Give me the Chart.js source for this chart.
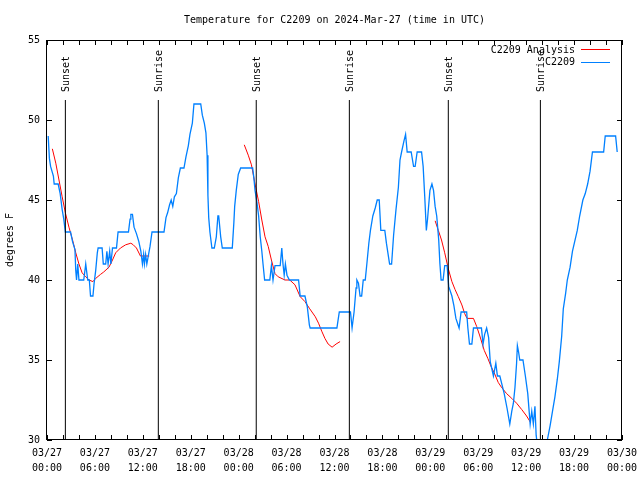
<!DOCTYPE html>
<html lang="en">
<head>
<meta charset="UTF-8" />
<title>C2209 Temperature</title>
<script src="https://cdn.jsdelivr.net/npm/chart.js"></script>
<style>
  body { margin: 0; background: #fff; }
  #tempChart { display: block; }
</style>
</head>
<body>
<canvas id="tempChart" width="640" height="480"></canvas>
<script>
// x values are hours since 03/27 00:00 UTC
const obsHours = [0.15,0.3,0.45,0.8,0.9,1.4,1.65,1.9,2.1,2.3,2.95,3.2,3.5,3.6,3.7,3.85,4.0,4.6,4.85,5.1,5.3,5.45,5.75,5.9,6.1,6.3,6.4,6.9,7.05,7.35,7.5,7.65,7.85,8.0,8.2,8.7,8.9,10.2,10.4,10.5,10.7,10.9,11.2,11.5,11.75,11.95,12.1,12.2,12.35,12.5,12.9,13.15,14.65,14.9,15.1,15.35,15.55,15.75,15.95,16.2,16.45,16.7,17.15,17.4,17.7,17.9,18.2,18.4,19.25,19.45,19.7,19.9,20.05,20.15,20.25,20.4,20.65,20.95,21.2,21.4,21.5,21.75,21.95,23.2,23.4,23.5,23.7,23.95,24.25,25.75,25.9,26.05,26.3,26.5,26.7,26.9,27.05,27.25,27.9,28.1,28.3,28.55,29.2,29.4,29.55,29.7,29.85,30.05,30.35,31.5,31.7,32.3,32.6,32.85,32.95,36.3,36.6,38.0,38.2,38.45,38.7,38.8,39.0,39.2,39.4,39.6,39.85,40.05,40.3,40.5,40.8,41.1,41.35,41.6,41.8,42.3,42.5,42.9,43.15,43.4,43.7,44.0,44.2,44.4,44.7,44.9,45.1,45.6,45.9,46.1,46.35,46.9,47.1,47.3,47.5,47.65,47.95,48.2,48.4,48.6,48.8,49.05,49.2,49.35,49.6,49.8,50.1,50.3,50.7,50.95,51.2,51.6,51.85,52.55,52.7,52.9,53.2,53.4,54.4,54.6,54.8,55.05,55.3,55.5,55.9,56.2,56.4,56.7,57.05,57.25,57.6,57.95,58.2,58.4,58.6,58.8,58.9,59.05,59.2,59.6,59.9,60.2,60.5,60.7,60.9,61.1,61.25,61.5,62.1,62.65,63.0,63.3,63.6,63.9,64.15,64.45,64.65,64.95,65.15,65.5,65.8,66.4,66.7,67.1,67.4,67.7,68.0,68.3,69.7,69.9,71.2,71.4];
const obsTemps = [49.0,47.6,47.1,46.5,46.0,46.0,45.4,44.4,43.8,43.0,43.0,42.4,41.9,40.6,40.0,41.0,40.0,40.0,41.0,40.0,40.0,39.0,39.0,39.8,40.6,41.7,42.0,42.0,41.0,41.0,41.8,41.0,41.8,41.0,42.0,42.0,43.0,43.0,43.8,44.1,44.1,43.3,42.9,42.4,41.8,41.0,41.6,41.0,41.6,41.0,42.1,43.0,43.0,43.9,44.2,44.7,45.0,44.6,45.2,45.4,46.4,47.0,47.0,47.7,48.4,49.1,49.8,51.0,51.0,50.3,49.8,49.2,47.8,45.3,43.9,43.0,42.0,42.0,42.7,44.0,44.0,42.7,42.0,42.0,43.6,44.6,45.6,46.6,47.0,47.0,46.4,45.6,44.8,44.0,42.7,41.8,41.0,40.0,40.0,40.9,40.0,40.9,40.9,42.0,41.0,40.3,41.0,40.3,40.0,40.0,39.0,39.0,38.3,37.2,37.0,37.0,38.0,38.0,37.0,38.0,39.5,40.0,39.8,39.0,39.0,40.0,40.0,41.0,42.3,43.1,44.0,44.5,45.0,45.0,43.1,43.1,42.3,41.0,41.0,42.8,44.4,45.8,47.5,48.0,48.7,49.1,48.0,48.0,47.1,47.1,48.0,48.0,47.1,45.2,43.1,43.8,45.6,46.0,45.6,44.6,44.0,42.5,41.0,40.0,40.0,40.9,40.9,39.6,39.0,38.4,37.6,37.0,38.0,38.0,37.0,36.0,36.0,37.0,37.0,36.0,36.6,37.0,36.4,34.9,34.0,34.8,34.0,34.0,33.3,32.9,32.0,31.0,31.8,32.3,33.3,34.8,35.9,35.5,35.0,35.0,34.0,32.9,31.0,31.8,31.0,32.1,30.3,29.3,29.3,30.0,30.9,31.8,32.7,33.8,34.9,36.5,38.2,39.2,40.0,40.8,41.8,43.1,44.0,45.0,45.4,46.0,46.8,48.0,48.0,49.0,49.0,48.0];

// analysis runs, a null temperature breaks the line between runs
const anaHours = [0.67,1.1,1.5,1.9,2.3,2.75,3.2,3.6,4.0,4.4,4.85,5.26,5.75,6.1,6.7,7.1,7.76,8.2,8.6,9.2,9.85,10.5,10.8,11.2,11.7,12.8,
  18,
  24.7,25.2,25.6,26.05,26.5,26.9,27.3,27.7,28.1,28.55,28.95,29.8,30.4,31.05,31.7,32.3,32.9,33.6,34.0,34.4,34.8,35.2,35.7,36.2,36.7,
  42,
  48.6,49.0,49.4,49.8,50.25,50.7,51.1,51.5,51.95,52.3,52.6,53.4,53.8,54.2,54.75,55.2,55.6,56.0,56.5,56.9,57.55,58.2,58.8,59.45,60.05,60.55];
const anaTemps = [48.2,47.3,46.25,45.2,44.2,43.3,42.5,41.7,41.0,40.45,40.2,40.0,39.9,40.1,40.35,40.5,40.8,41.25,41.7,42.0,42.2,42.3,42.2,42.0,41.5,41.5,
  null,
  48.45,47.8,47.2,46.0,44.9,43.75,42.7,42.1,41.25,40.4,40.2,40.0,40.0,39.7,38.96,38.65,38.2,37.7,37.3,36.8,36.35,36.0,35.8,36.0,36.15,
  null,
  43.7,43.1,42.5,41.7,40.7,39.9,39.4,38.96,38.44,37.9,37.6,37.6,37.1,36.5,35.6,35.1,34.6,34.2,33.6,33.3,32.9,32.6,32.3,31.9,31.5,31.1];

const sunHours = [2.3, 13.94, 26.2, 37.86, 50.25, 61.78];
const sunLabels = ['Sunset', 'Sunrise', 'Sunset', 'Sunrise', 'Sunset', 'Sunrise'];
const sunTop = 51.25;

const tickDates = ['03/27','03/27','03/27','03/27','03/28','03/28','03/28','03/28','03/29','03/29','03/29','03/29','03/30'];
const tickTimes = ['00:00','06:00','12:00','18:00','00:00','06:00','12:00','18:00','00:00','06:00','12:00','18:00','00:00'];

const FONT = "'DejaVu Sans Mono', 'Liberation Mono', monospace";
const pts = (xs, ys) => xs.map((x, i) => ({ x: x, y: ys[i] }));

const sunSets = sunHours.map(h => ({
  label: '',
  data: [{ x: h, y: 30 }, { x: h, y: sunTop }],
  borderColor: '#000',
  borderWidth: 1,
  pointRadius: 0,
  order: 1
}));

// box, inward ticks, sun labels and key, drawn the gnuplot way
const gnuDecor = {
  id: 'gnuDecor',
  afterDatasetsDraw(chart) {
    const { ctx, chartArea: a, scales: { x, y } } = chart;
    ctx.save();
    ctx.strokeStyle = '#000';
    ctx.lineWidth = 1;
    ctx.strokeRect(Math.round(a.left) - 0.5, Math.round(a.top) + 0.5,
      Math.round(a.right - a.left), Math.round(a.bottom - a.top) - 1);
    ctx.beginPath();
    x.ticks.forEach(t => {
      const px = Math.round(x.getPixelForValue(t.value)) + 0.5;
      ctx.moveTo(px, a.bottom); ctx.lineTo(px, a.bottom - 5);
      ctx.moveTo(px, a.top); ctx.lineTo(px, a.top + 5);
    });
    y.ticks.forEach(t => {
      const py = Math.round(y.getPixelForValue(t.value)) + 0.5;
      ctx.moveTo(a.left, py); ctx.lineTo(a.left + 5, py);
      ctx.moveTo(a.right, py); ctx.lineTo(a.right - 5, py);
    });
    ctx.stroke();

    ctx.fillStyle = '#000';
    ctx.font = '10px ' + FONT;
    ctx.textAlign = 'left';
    ctx.textBaseline = 'middle';
    sunHours.forEach((h, i) => {
      ctx.save();
      ctx.translate(x.getPixelForValue(h) + 1.5, y.getPixelForValue(sunTop) - 8);
      ctx.rotate(-Math.PI / 2);
      ctx.fillText(sunLabels[i], 0, 0);
      ctx.restore();
    });

    const keys = chart.data.datasets.slice(0, 2);
    keys.forEach((ds, i) => {
      const ky = a.top + 10 + i * 12.5;
      ctx.textAlign = 'right';
      ctx.fillText(ds.label, a.right - 47, ky);
      ctx.strokeStyle = ds.borderColor;
      ctx.beginPath();
      ctx.moveTo(a.right - 41, Math.round(ky) - 0.5);
      ctx.lineTo(a.right - 12, Math.round(ky) - 0.5);
      ctx.stroke();
    });
    ctx.restore();
  }
};

new Chart(document.getElementById('tempChart'), {
  type: 'line',
  data: {
    datasets: [
      {
        label: 'C2209 Analysis',
        data: pts(anaHours, anaTemps),
        borderColor: '#ff0000',
        borderWidth: 1,
        pointRadius: 0,
        tension: 0,
        spanGaps: false,
        order: 3
      },
      {
        label: 'C2209',
        data: pts(obsHours, obsTemps),
        borderColor: 'rgb(0,128,255)',
        borderWidth: 1.3,
        pointRadius: 0,
        tension: 0,
        order: 2
      },
      ...sunSets
    ]
  },
  options: {
    responsive: false,
    animation: false,
    layout: { padding: { left: 0, right: 18, top: 0, bottom: 0 } },
    plugins: {
      legend: { display: false },
      tooltip: { enabled: false },
      title: {
        display: true,
        fullSize: false,
        text: 'Temperature for C2209 on 2024-Mar-27 (time in UTC)',
        color: '#000',
        font: { family: FONT, size: 10, weight: 'normal', lineHeight: 1.2 },
        padding: { top: 14, bottom: 14 }
      }
    },
    scales: {
      x: {
        type: 'linear',
        min: 0,
        max: 72,
        grid: { display: false, drawTicks: false },
        border: { display: false },
        afterFit: s => { s.height = 40; s.paddingRight = 0; },
        ticks: {
          stepSize: 2,
          autoSkip: false,
          maxRotation: 0,
          padding: 6,
          color: '#000',
          font: { family: FONT, size: 10, lineHeight: '15px' },
          callback: v => (v % 6 === 0 ? [tickDates[v / 6], tickTimes[v / 6]] : '')
        }
      },
      y: {
        min: 30,
        max: 55,
        grid: { display: false, drawTicks: false },
        border: { display: false },
        afterFit: s => { s.width = 47; },
        title: {
          display: true,
          text: 'degrees F',
          color: '#000',
          font: { family: FONT, size: 10 },
          padding: { top: 4, bottom: 0 }
        },
        ticks: {
          stepSize: 5,
          padding: 7,
          color: '#000',
          font: { family: FONT, size: 10 }
        }
      }
    }
  },
  plugins: [gnuDecor]
});
</script>
</body>
</html>
